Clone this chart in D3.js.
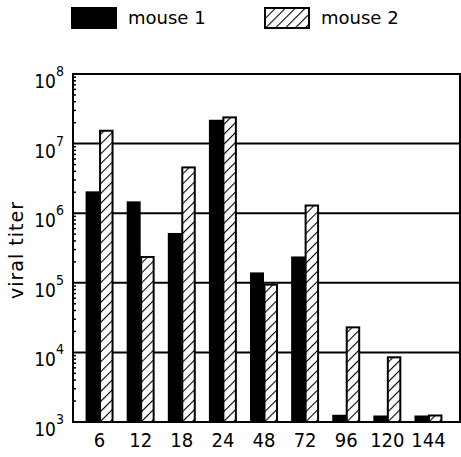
<!DOCTYPE html>
<html>
<head>
<meta charset="utf-8">
<script src="https://cdn.jsdelivr.net/npm/d3@7"></script>
<style>
  body { margin: 0; background: #fff; }
  svg { display: block; }
  .num { font-family: "Liberation Sans Narrow", "DejaVu Sans Condensed", Roboto, sans-serif; }
  .lbl { font-family: "DejaVu Sans", sans-serif; }
</style>
</head>
<body>
<div id="chart"></div>
<script>
// hours after infection
const hours = ["6", "12", "18", "24", "48", "72", "96", "120", "144"];
const series = ["mouse 1", "mouse 2"];
const mouse1 = [2.06e6, 1.48e6, 5.2e5, 2.2e7, 1.41e5, 2.39e5, 1.27e3, 1.24e3, 1.24e3];
const mouse2 = [1.53e7, 2.35e5, 4.55e6, 2.38e7, 9.4e4, 1.29e6, 2.29e4, 8.5e3, 1.24e3];
const yTicks = [3, 4, 5, 6, 7, 8]; // exponents

const width = 461, height = 457;
const plotL = 73, plotR = 460, plotT = 74, plotB = 422;

const svg = d3.select("#chart").append("svg")
  .attr("width", width)
  .attr("height", height);

// hatch pattern
const defs = svg.append("defs");
const pat = defs.append("pattern")
  .attr("id", "hatch")
  .attr("patternUnits", "userSpaceOnUse")
  .attr("width", 7).attr("height", 7)
  .attr("patternTransform", "rotate(45)");
pat.append("rect").attr("width", 7).attr("height", 7).attr("fill", "#fff");
pat.append("line")
  .attr("x1", 0).attr("y1", 0).attr("x2", 0).attr("y2", 7)
  .attr("stroke", "#000").attr("stroke-width", 2.2);

const y = d3.scaleLog().domain([1e3, 1e8]).range([plotB, plotT]);
const x = d3.scaleBand().domain(hours).range([79, 449])
  .paddingInner(0.32).paddingOuter(0.16);
const xs = d3.scaleBand().domain(series).range([0, x.bandwidth()]);

// gridlines
svg.append("g").selectAll("line")
  .data(yTicks.slice(1, -1))
  .join("line")
  .attr("x1", plotL).attr("x2", plotR)
  .attr("y1", d => y(Math.pow(10, d))).attr("y2", d => y(Math.pow(10, d)))
  .attr("stroke", "#000").attr("stroke-width", 2);

// minor ticks on left edge
const minor = [];
for (let e = 3; e < 8; e++) for (let m = 2; m <= 9; m++) minor.push(m * Math.pow(10, e));
svg.append("g").selectAll("line")
  .data(minor)
  .join("line")
  .attr("x1", plotL).attr("x2", plotL + 3)
  .attr("y1", d => y(d)).attr("y2", d => y(d))
  .attr("stroke", "#000").attr("stroke-width", 1.5);

// bars
const rows = hours.map((h, i) => ({ h, vals: [mouse1[i], mouse2[i]] }));
const grp = svg.append("g").selectAll("g")
  .data(rows)
  .join("g")
  .attr("transform", d => `translate(${x(d.h)},0)`);

grp.append("rect")
  .attr("x", xs("mouse 1"))
  .attr("y", d => y(d.vals[0]))
  .attr("width", xs.bandwidth())
  .attr("height", d => plotB - y(d.vals[0]))
  .attr("fill", "#000");

grp.append("rect")
  .attr("x", xs("mouse 2") + 0.5)
  .attr("y", d => y(d.vals[1]))
  .attr("width", xs.bandwidth() - 1.5)
  .attr("height", d => plotB - y(d.vals[1]))
  .attr("fill", "url(#hatch)")
  .attr("stroke", "#000").attr("stroke-width", 2);

// frame
svg.append("rect")
  .attr("x", plotL).attr("y", plotT)
  .attr("width", plotR - plotL).attr("height", plotB - plotT)
  .attr("fill", "none").attr("stroke", "#000").attr("stroke-width", 2);

// y tick labels
const yl = svg.append("g").selectAll("text")
  .data(yTicks)
  .join("text")
  .attr("class", "num")
  .attr("text-anchor", "end")
  .attr("x", 64)
  .attr("y", d => y(Math.pow(10, d)) + 14)
  .attr("font-size", 19);
yl.append("tspan").text("10");
yl.append("tspan").attr("dy", -12).attr("font-size", 14).text(d => d);

// x tick labels
svg.append("g").selectAll("text")
  .data(hours)
  .join("text")
  .attr("class", "num")
  .attr("text-anchor", "middle")
  .attr("x", d => x(d) + x.bandwidth() / 2)
  .attr("y", 447)
  .attr("font-size", 20)
  .text(d => d);

// y axis title
svg.append("text")
  .attr("class", "lbl")
  .attr("transform", "translate(23,250) rotate(-90)")
  .attr("text-anchor", "middle")
  .attr("font-size", 19)
  .attr("letter-spacing", 1)
  .text("viral titer");

// legend
const legX = [72, 265];
const leg = svg.append("g").selectAll("g")
  .data(series)
  .join("g")
  .attr("transform", (d, i) => `translate(${legX[i]},8)`);
leg.append("rect")
  .attr("width", 44).attr("height", 20)
  .attr("fill", (d, i) => i === 0 ? "#000" : "url(#hatch)")
  .attr("stroke", "#000").attr("stroke-width", 2);
leg.append("text")
  .attr("class", "lbl")
  .attr("x", 56).attr("y", 16)
  .attr("font-size", 18)
  .text(d => d);
</script>
</body>
</html>
